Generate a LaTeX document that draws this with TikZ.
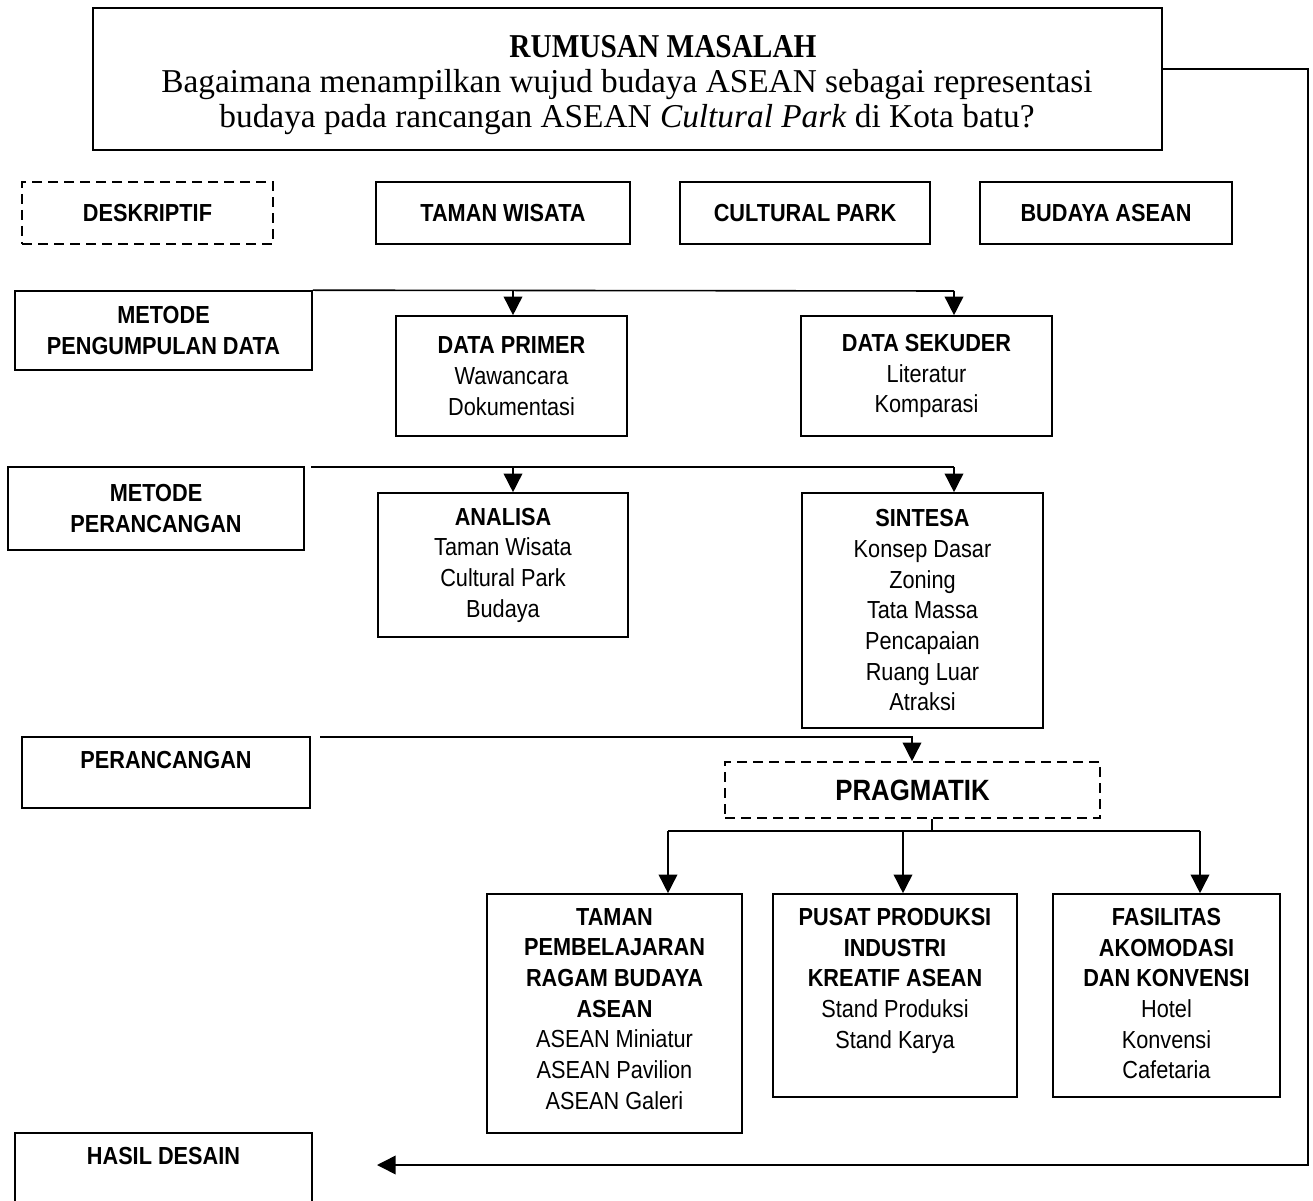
\documentclass[tikz,border=0pt]{standalone}
\usepackage{fontspec}
\setmainfont[FakeStretch=0.88]{Liberation Sans}
\newfontfamily\qfont{Liberation Serif}
\newfontfamily\tfont[FakeStretch=0.88]{Liberation Serif}
\usetikzlibrary{arrows.meta}
\newcommand\bxfont{\fontsize{18.5}{23}\selectfont}
\newcommand\bigfont{\fontsize{22}{26}\selectfont}
\newcommand\qsize{\qfont\fontsize{25}{28}\selectfont}
\newcommand\tsize{\tfont\bfseries\fontsize{25}{28}\selectfont}
\begin{document}
\begin{tikzpicture}[x=0.75pt,y=-0.75pt,
  box/.style={draw,line width=1.2pt,inner sep=0pt,align=center,font=\bxfont},
  dbox/.style={box,dash pattern=on 7.5pt off 4.5pt},
  txt/.style={inner sep=0pt,align=center,font=\bxfont},
  ln/.style={line width=1.2pt},
  arr/.style={line width=1.2pt,-{Triangle[width=14pt,length=14pt]}}]
\useasboundingbox (0,0) rectangle (1313,1201);

% top box
\node[box,minimum width=801.75pt,minimum height=106.5pt] (top) at (627.5,79) {};
\node[inner sep=0pt,anchor=base,font=\qsize] (q1) at (627,93) {Bagaimana menampilkan wujud budaya ASEAN sebagai representasi};
\node[inner sep=0pt,anchor=base,font=\qsize] (q2) at (627,128) {budaya pada rancangan ASEAN \textit{Cultural Park} di Kota batu?};
\node[inner sep=0pt,anchor=base west] (ttl) at ([yshift=26.25pt]q1.base west) {\qsize\phantom{Bagaimana menampilkan }\tsize RUMUSAN MASALAH};

% row 2
\node[dbox,minimum width=188.25pt,minimum height=46.5pt] (desk) at (147.5,213) {\textbf{DESKRIPTIF}};
\node[box,minimum width=190.5pt,minimum height=46.5pt] (tw) at (503,213) {\textbf{TAMAN WISATA}};
\node[box,minimum width=187.5pt,minimum height=46.5pt] (cp) at (805,213) {\textbf{CULTURAL PARK}};
\node[box,minimum width=189pt,minimum height=46.5pt] (ba) at (1106,213) {\textbf{BUDAYA ASEAN}};

% row 3
\node[box,minimum width=222.75pt,minimum height=59.25pt] (mpd) at (163.5,330.5) {\textbf{METODE}\\\textbf{PENGUMPULAN DATA}};
\node[box,minimum width=173.25pt,minimum height=90pt] (dp) at (511.5,376) {\textbf{DATA PRIMER}\\Wawancara\\Dokumentasi};
\node[box,minimum width=188.25pt,minimum height=90pt] (ds) at (926.5,376) {\textbf{DATA SEKUDER}\\Literatur\\Komparasi};

% row 4
\node[box,minimum width=222pt,minimum height=62.25pt] (mp) at (156,508.5) {\textbf{METODE}\\\textbf{PERANCANGAN}};
\node[box,minimum width=187.5pt,minimum height=108pt] (an) at (503,565) {\textbf{ANALISA}\\Taman Wisata\\Cultural Park\\Budaya};
\node[box,minimum width=180.75pt,minimum height=176.25pt] (sin) at (922.5,610.5) {\textbf{SINTESA}\\Konsep Dasar\\Zoning\\Tata Massa\\Pencapaian\\Ruang Luar\\Atraksi};

% row 5
\node[box,minimum width=216pt,minimum height=53.25pt] (per) at (166,772.5) {};
\node[txt,anchor=north] (pert) at ([yshift=-11pt]per.north) {\textbf{PERANCANGAN}};
\node[dbox,minimum width=281.25pt,minimum height=42pt,font=\bigfont] (prag) at (912.5,790) {\textbf{PRAGMATIK}};

% bottom boxes
\node[box,minimum width=191.25pt,minimum height=179.25pt] (tpb) at (614.5,1013.5) {};
\node[txt,anchor=north] (tpbt) at ([yshift=-11pt]tpb.north) {\textbf{TAMAN}\\\textbf{PEMBELAJARAN}\\\textbf{RAGAM BUDAYA}\\\textbf{ASEAN}\\ASEAN Miniatur\\ASEAN Pavilion\\ASEAN Galeri};
\node[box,minimum width=183pt,minimum height=152.25pt] (pp) at (895,995.5) {};
\node[txt,anchor=north] (ppt) at ([yshift=-11pt]pp.north) {\textbf{PUSAT PRODUKSI}\\\textbf{INDUSTRI}\\\textbf{KREATIF ASEAN}\\Stand Produksi\\Stand Karya};
\node[box,minimum width=170.25pt,minimum height=152.25pt] (fa) at (1166.5,995.5) {};
\node[txt,anchor=north] (fat) at ([yshift=-11pt]fa.north) {\textbf{FASILITAS}\\\textbf{AKOMODASI}\\\textbf{DAN KONVENSI}\\Hotel\\Konvensi\\Cafetaria};

\node[box,minimum width=222.75pt,minimum height=61.5pt] (hd) at (163.5,1174) {};
\node[txt,anchor=north] (hdt) at ([yshift=-11pt]hd.north) {\textbf{HASIL DESAIN}};

% connectors
\coordinate (ls) at (1308,69);
\coordinate (lb) at (1308,1165);
\coordinate (hin) at (377,1165);
\draw[arr] (top.east |- ls) -- (ls) -- (lb) -- (hin);

\coordinate (a1) at (513,291);
\coordinate (a2) at (954,291);
\draw[ln] (mpd.north east) -- (a2);
\draw[arr] (a1) -- (a1 |- dp.north);
\draw[arr] (a2) -- (a2 |- ds.north);

\coordinate (m1) at (311,467);
\coordinate (b1) at (513,467);
\coordinate (b2) at (954,467);
\draw[ln] (m1) -- (b2);
\draw[arr] (b1) -- (b1 |- an.north);
\draw[arr] (b2) -- (b2 |- sin.north);

\coordinate (p1) at (320,737);
\coordinate (p2) at (912,737);
\draw[arr] (p1) -- (p2) -- (p2 |- prag.north);

\coordinate (tick) at (932,831);
\draw[ln] (tick |- prag.south) -- (tick);
\coordinate (bl) at (668,831);
\coordinate (bm) at (903,831);
\coordinate (br) at (1200,831);
\draw[ln] (bl) -- (br);
\draw[arr] (bl) -- (bl |- tpb.north);
\draw[arr] (bm) -- (bm |- pp.north);
\draw[arr] (br) -- (br |- fa.north);
\end{tikzpicture}
\end{document}
